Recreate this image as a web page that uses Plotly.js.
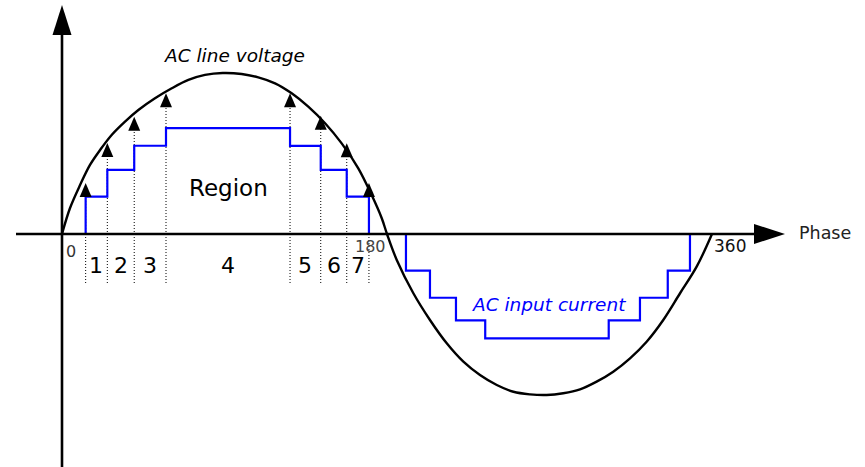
<!DOCTYPE html>
<html>
<head>
<meta charset="utf-8">
<script src="https://cdn.plot.ly/plotly-3.0.1.min.js"></script>
<style>html,body{margin:0;padding:0;background:#fff;}#chart{width:865px;height:467px;}</style>
</head>
<body>
<div id="chart"></div>
<script>
// ---- data (phase in degrees, values normalised to the voltage peak) ----
const phaseDeg = [0, 4.4, 10.0, 15.5, 21.1, 27.5, 34.9, 42.3, 51.5, 60.8, 70.0, 79.2, 89.0, 99.5, 108.7, 118.0, 127.2, 136.4, 145.7, 154.9, 164.1, 171.5, 177.1, 180,
                  185.4, 194.6, 203.8, 213.1, 222.3, 231.5, 240.8, 250.0, 259.2, 268.4, 277.6, 286.9, 296.1, 305.3, 314.6, 323.8, 333.0, 342.3, 351.5, 360];
const lineVoltage = [0, 0.160, 0.304, 0.429, 0.522, 0.615, 0.698, 0.770, 0.843, 0.905, 0.957, 0.988, 1.000, 0.994, 0.973, 0.936, 0.874, 0.791, 0.688, 0.563, 0.408, 0.242, 0.098, 0,
                     -0.161, -0.368, -0.534, -0.679, -0.793, -0.876, -0.938, -0.980, -0.996, -1.000, -0.989, -0.965, -0.917, -0.855, -0.772, -0.669, -0.534, -0.368, -0.203, 0];

const posStepEdges = [13.1, 25.1, 40.0, 57.6, 126.3, 143.3, 157.7, 170.0];
const posCurrentLevels = [0.232, 0.398, 0.548, 0.657, 0.547, 0.398, 0.232, 0];
const negStepEdges = [190.5, 203.8, 218.2, 234.4, 302.8, 320.1, 335.5, 347.8];
const negCurrentLevels = [-0.228, -0.396, -0.536, -0.648, -0.536, -0.396, -0.228, 0];

const arrowTips = [0.316, 0.565, 0.729, 0.874, 0.874, 0.734, 0.563, 0.316];
const regionLabels = ['1', '2', '3', '4', '5', '6', '7'];
const tickPhases = [0, 180, 360];
const tickLabels = ['0', '180', '360'];

// ---- geometry of the drawing ----
const W = 865, H = 467;
const X0PX = 62, PX_PER_DEG = 650 / 360;   // phase 0 at x=62px
const Y0PX = 234, PX_PER_UNIT = 161;       // axis at y=234px
const xRange = [-X0PX / PX_PER_DEG, (W - X0PX) / PX_PER_DEG];
const yRange = [(Y0PX - H) / PX_PER_UNIT, Y0PX / PX_PER_UNIT];
const px = v => v / PX_PER_DEG;            // pixels -> degrees (horizontal length)
const pu = v => v / PX_PER_UNIT;           // pixels -> units (vertical length)

const FONT = 'DejaVu Sans, Liberation Sans, Arial, sans-serif';
const BLUE = '#0000ff';

function stepTrace(edges, levels) {
  return {
    x: [edges[0]].concat(edges),
    y: [0].concat(levels),
    mode: 'lines', line: {color: BLUE, width: 2.2, shape: 'hv'},
    hoverinfo: 'skip', type: 'scatter'
  };
}

// dotted guide lines from below the axis up to each arrow head
const dotX = [], dotY = [];
const arrowHeadH = 14;
posStepEdges.forEach((e, i) => {
  dotX.push(e, e, null);
  dotY.push(pu(-49), arrowTips[i] - pu(arrowHeadH - 1), null);
});

const traces = [
  {x: dotX, y: dotY, mode: 'lines', line: {color: '#000', width: 1, dash: '1px,2px'}, hoverinfo: 'skip', type: 'scatter'},
  {x: phaseDeg, y: lineVoltage, mode: 'lines', line: {color: '#000', width: 2.4, shape: 'spline', smoothing: 1}, hoverinfo: 'skip', type: 'scatter'},
  stepTrace(posStepEdges, posCurrentLevels),
  stepTrace(negStepEdges, negCurrentLevels)
];

const shapes = [];
// horizontal axis
const hEnd = px(754 - X0PX);
shapes.push({type: 'line', xref: 'x', yref: 'y', x0: px(16 - X0PX), x1: hEnd, y0: 0, y1: 0, line: {color: '#000', width: 2.6}});
shapes.push({type: 'path', xref: 'x', yref: 'y', xsizemode: 'pixel', ysizemode: 'pixel', xanchor: hEnd, yanchor: 0,
  path: 'M0,-10 L31,0 L0,10 Z', fillcolor: '#000', line: {color: '#000', width: 0}});
// vertical axis
const vEnd = pu(Y0PX - 35);
shapes.push({type: 'line', xref: 'x', yref: 'y', x0: 0, x1: 0, y0: yRange[0], y1: vEnd, line: {color: '#000', width: 2.6}});
shapes.push({type: 'path', xref: 'x', yref: 'y', xsizemode: 'pixel', ysizemode: 'pixel', xanchor: 0, yanchor: vEnd,
  path: 'M-9.5,0 L9.5,0 L0,30 Z', fillcolor: '#000', line: {color: '#000', width: 0}});
// arrow heads touching the line voltage
posStepEdges.forEach((e, i) => {
  shapes.push({type: 'path', xref: 'x', yref: 'y', xsizemode: 'pixel', ysizemode: 'pixel', xanchor: e, yanchor: arrowTips[i],
    path: 'M-6,-' + arrowHeadH + ' L6,-' + arrowHeadH + ' L0,0 Z', fillcolor: '#000', line: {color: '#000', width: 0}});
});

const annotations = [];
regionLabels.forEach((t, i) => {
  annotations.push({x: (posStepEdges[i] + posStepEdges[i + 1]) / 2, y: pu(-31), xref: 'x', yref: 'y', text: t, showarrow: false,
    xanchor: 'center', yanchor: 'middle', font: {family: FONT, size: 22, color: '#000'}});
});
const tickShift = [[9, -17, 16, '#333'], [-17, -12, 16, '#444'], [18, -12, 17, '#111']];
tickPhases.forEach((p, i) => {
  annotations.push({x: p, y: 0, xref: 'x', yref: 'y', text: tickLabels[i], showarrow: false,
    xanchor: 'center', yanchor: 'middle', xshift: tickShift[i][0], yshift: tickShift[i][1],
    font: {family: FONT, size: tickShift[i][2], color: tickShift[i][3]}});
});
annotations.push({x: 825 / W, y: 1 - 233 / H, xref: 'paper', yref: 'paper', text: 'Phase', showarrow: false,
  xanchor: 'center', yanchor: 'middle', font: {family: FONT, size: 17.5, color: '#222'}});
annotations.push({x: 235 / W, y: 1 - 55 / H, xref: 'paper', yref: 'paper', text: '<i>AC line voltage</i>', showarrow: false,
  xanchor: 'center', yanchor: 'middle', font: {family: FONT, size: 18.5, color: '#000'}});
annotations.push({x: 229 / W, y: 1 - 188 / H, xref: 'paper', yref: 'paper', text: 'Region', showarrow: false,
  xanchor: 'center', yanchor: 'middle', font: {family: FONT, size: 23, color: '#000'}});
annotations.push({x: 549 / W, y: 1 - 304 / H, xref: 'paper', yref: 'paper', text: '<i>AC input current</i>', showarrow: false,
  xanchor: 'center', yanchor: 'middle', font: {family: FONT, size: 18.5, color: BLUE}});

const layout = {
  width: W, height: H,
  margin: {l: 0, r: 0, t: 0, b: 0, pad: 0},
  paper_bgcolor: '#fff', plot_bgcolor: '#fff',
  showlegend: false,
  xaxis: {range: xRange, visible: false, fixedrange: true},
  yaxis: {range: yRange, visible: false, fixedrange: true},
  shapes: shapes,
  annotations: annotations
};

Plotly.newPlot('chart', traces, layout, {staticPlot: true, displayModeBar: false});
</script>
</body>
</html>
